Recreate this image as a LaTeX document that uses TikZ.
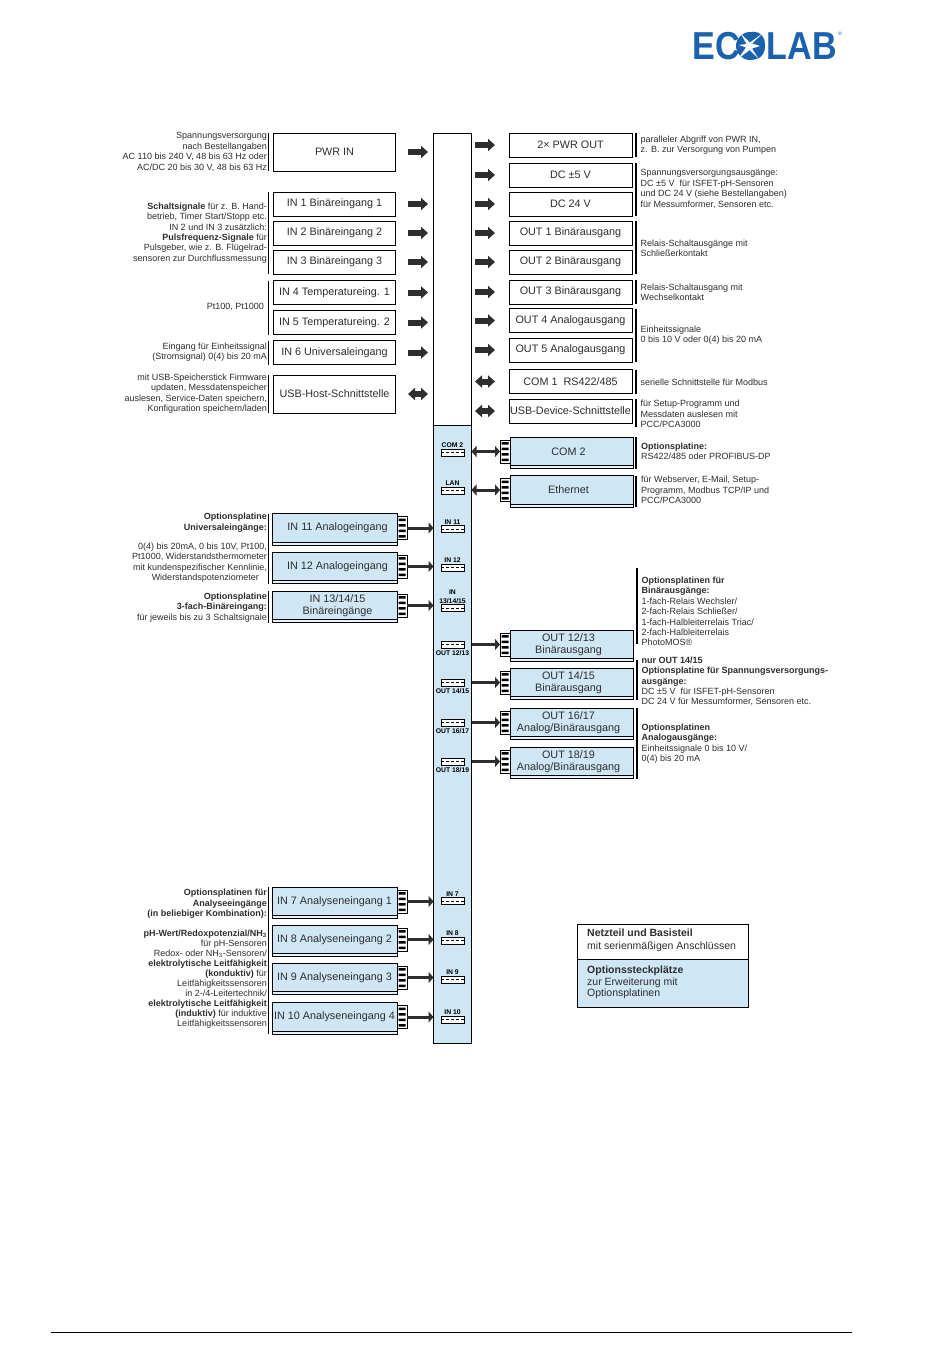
\documentclass[tikz,border=0pt]{standalone}
\usepackage{fontspec}
\setmainfont{Liberation Sans}
\usetikzlibrary{arrows.meta, positioning, calc, shadows}
\definecolor{optblue}{HTML}{CFE6F5}
\definecolor{logoblue}{HTML}{1B62AE}
\definecolor{inkgrey}{HTML}{2E2E2E}

\begin{document}
\begin{tikzpicture}[
  x=1pt, y=-1pt,
  box/.style={rectangle, draw, line width=1pt, fill=white, outer sep=0pt, inner sep=0pt,
              minimum height=24pt, align=center, text=inkgrey,
              font=\fontsize{10.8}{11.6}\selectfont},
  inbox/.style={box, minimum width=122pt},
  outbox/.style={box, minimum width=123pt},
  optin/.style={box, fill=optblue, minimum width=125pt, minimum height=28.5pt,
                general shadow={shadow yshift=-3pt, shadow xshift=0pt, fill=optblue!50, draw=black}},
  optout/.style={optin, minimum width=123pt},
  pins/.style={rectangle, draw, fill=white, outer sep=0pt, inner sep=0pt,
               minimum width=10pt, minimum height=23pt,
               path picture={\fill[black]
                 ([shift={(-3.5,-9.5)}]path picture bounding box.center) rectangle +(7,2.5)
                 ([shift={(-3.5,-4)}]path picture bounding box.center) rectangle +(7,2.5)
                 ([shift={(-3.5,1.5)}]path picture bounding box.center) rectangle +(7,2.5)
                 ([shift={(-3.5,7)}]path picture bounding box.center) rectangle +(7,2.5);}},
  slot/.style={rectangle, draw, line width=.9pt, fill=white, outer sep=0pt, inner sep=0pt,
               minimum width=23pt, minimum height=7pt,
               path picture={\draw[densely dashed, line width=.5pt]
                 (path picture bounding box.west) -- (path picture bounding box.east);}},
  slotlab/.style={inner sep=0pt, align=center, text=black, yshift=1pt,
                  font=\fontsize{6.8}{8.5}\bfseries\selectfont},
  slotlabb/.style={slotlab, yshift=-3pt},
  bigarrow/.style={-{Triangle[length=7pt, width=12pt]}, line width=6pt, color=inkgrey},
  bigboth/.style={{Triangle[length=7pt, width=12pt]}-{Triangle[length=7pt, width=12pt]},
                  line width=6pt, color=inkgrey},
  optarrow/.style={-{Triangle[length=5pt, width=11pt]}, line width=3pt, color=inkgrey},
  optboth/.style={{Triangle[length=5pt, width=11pt]}-{Triangle[length=5pt, width=11pt]},
                  line width=3pt, color=inkgrey},
  bracket/.style={line width=1.4pt},
  notel/.style={anchor=east, align=right, inner sep=0pt, text=inkgrey,
                font=\fontsize{9}{10.4}\selectfont},
  noter/.style={anchor=west, align=left, inner sep=0pt, text=inkgrey,
                font=\fontsize{9}{10.4}\selectfont},
]
\useasboundingbox (0,0) rectangle (950,1360);
\fill[white] (0,0) rectangle (950,1360);

% ---- logo ----
\node[inner sep=0pt, text=logoblue, xscale=.875, font=\fontsize{39}{39}\bfseries\selectfont]
  (logo) at (765,46) {ECOLAB};
\fill[logoblue] (750,46) circle (14);
\fill[white] (763,33) -- (752,43.5) -- (760,46) -- (752,48.5) -- (758,58) -- (749.5,50)
  -- (738,59) -- (746,47.5) -- (739,45) -- (746.5,44) -- (741,34) -- (750,42.5) -- cycle;
\node[inner sep=0pt, text=logoblue, font=\fontsize{5}{5}\selectfont] (logoreg) at (840,34) {®};

% ---- main board ----
\node[rectangle, draw, line width=1pt, outer sep=0pt, minimum width=38pt, minimum height=292pt, fill=white]
  (board) at (452.5,279) {};
\node[rectangle, draw, line width=1pt, outer sep=0pt, minimum width=38pt, minimum height=618pt, fill=optblue,
  below=0pt of board] (optboard) {};

% ---- base inputs ----
\node[inbox, minimum height=38pt] (pwrin) at (334.5,152) {PWR IN};
\node[inbox, below=21pt of pwrin] (in1) {IN 1 Binäreingang 1};
\node[inbox, below=5pt of in1] (in2) {IN 2 Binäreingang 2};
\node[inbox, below=5pt of in2] (in3) {IN 3 Binäreingang 3};
\node[inbox, below=6.5pt of in3] (in4) {IN 4 Temperatureing. 1};
\node[inbox, below=6pt of in4] (in5) {IN 5 Temperatureing. 2};
\node[inbox, below=6pt of in5] (in6) {IN 6 Universaleingang};
\node[inbox, minimum height=38pt, below=10.5pt of in6] (usbhost) {USB-Host-Schnittstelle};

% ---- base outputs ----
\node[outbox] (pwrout) at (570.5,145) {2× PWR OUT};
\node[outbox, below=6pt of pwrout] (dcfive) {DC ±5 V};
\node[outbox, below=5pt of dcfive] (dctwenty) {DC 24 V};
\node[outbox, below=5pt of dctwenty] (out1) {OUT 1 Binärausgang};
\node[outbox, below=5pt of out1] (out2) {OUT 2 Binärausgang};
\node[outbox, below=6pt of out2] (out3) {OUT 3 Binärausgang};
\node[outbox, below=4.5pt of out3] (out4) {OUT 4 Analogausgang};
\node[outbox, below=5.5pt of out4] (out5) {OUT 5 Analogausgang};
\node[outbox, below=7.5pt of out5] (com1) {COM 1\ \ RS422/485};
\node[outbox, below=5.5pt of com1] (usbdev) {USB-Device-Schnittstelle};

% ---- base arrows ----
\draw[bigarrow, shorten <=12.5pt, shorten >=5.5pt] (pwrin.east) -- (pwrin.east -| board.west);
\draw[bigarrow, shorten <=12.5pt, shorten >=5.5pt] (in1.east) -- (in1.east -| board.west);
\draw[bigarrow, shorten <=12.5pt, shorten >=5.5pt] (in2.east) -- (in2.east -| board.west);
\draw[bigarrow, shorten <=12.5pt, shorten >=5.5pt] (in3.east) -- (in3.east -| board.west);
\draw[bigarrow, shorten <=12.5pt, shorten >=5.5pt] (in4.east) -- (in4.east -| board.west);
\draw[bigarrow, shorten <=12.5pt, shorten >=5.5pt] (in5.east) -- (in5.east -| board.west);
\draw[bigarrow, shorten <=12.5pt, shorten >=5.5pt] (in6.east) -- (in6.east -| board.west);
\draw[bigboth, shorten <=12.5pt, shorten >=5.5pt] (usbhost.east) -- (usbhost.east -| board.west);
\draw[bigarrow, shorten <=3.5pt, shorten >=14pt] (pwrout.west -| board.east) -- (pwrout.west);
\draw[bigarrow, shorten <=3.5pt, shorten >=14pt] (dcfive.west -| board.east) -- (dcfive.west);
\draw[bigarrow, shorten <=3.5pt, shorten >=14pt] (dctwenty.west -| board.east) -- (dctwenty.west);
\draw[bigarrow, shorten <=3.5pt, shorten >=14pt] (out1.west -| board.east) -- (out1.west);
\draw[bigarrow, shorten <=3.5pt, shorten >=14pt] (out2.west -| board.east) -- (out2.west);
\draw[bigarrow, shorten <=3.5pt, shorten >=14pt] (out3.west -| board.east) -- (out3.west);
\draw[bigarrow, shorten <=3.5pt, shorten >=14pt] (out4.west -| board.east) -- (out4.west);
\draw[bigarrow, shorten <=3.5pt, shorten >=14pt] (out5.west -| board.east) -- (out5.west);
\draw[bigboth, shorten <=3.5pt, shorten >=14pt] (com1.west -| board.east) -- (com1.west);
\draw[bigboth, shorten <=3.5pt, shorten >=14pt] (usbdev.west -| board.east) -- (usbdev.west);

% ---- option slots ----
\node[slot, label={[slotlab]above:COM 2}] (slotcom) at (452.5,452.5) {};
\node[slot, label={[slotlab]above:LAN}] (slotlan) at (452.5,490.5) {};
\node[slot, label={[slotlab]above:IN 11}] (slot11) at (452.5,529) {};
\node[slot, label={[slotlab]above:IN 12}] (slot12) at (452.5,567.5) {};
\node[slot, label={[slotlab]above:IN\\13/14/15}] (slot13) at (452.5,608) {};
\node[slot, label={[slotlabb]below:OUT 12/13}] (slotout12) at (452.5,644.5) {};
\node[slot, label={[slotlabb]below:OUT 14/15}] (slotout14) at (452.5,682.5) {};
\node[slot, label={[slotlabb]below:OUT 16/17}] (slotout16) at (452.5,722.5) {};
\node[slot, label={[slotlabb]below:OUT 18/19}] (slotout18) at (452.5,761.5) {};
\node[slot, label={[slotlab]above:IN 7}] (slot7) at (452.5,901) {};
\node[slot, label={[slotlab]above:IN 8}] (slot8) at (452.5,940.5) {};
\node[slot, label={[slotlab]above:IN 9}] (slot9) at (452.5,979.5) {};
\node[slot, label={[slotlab]above:IN 10}] (slot10) at (452.5,1019.5) {};

% ---- option boards, inputs ----
\node[optin] (in11) at (334.5,528) {\hspace*{6pt}IN 11 Analogeingang};
\node[optin, below=10pt of in11] (in12) {\hspace*{6pt}IN 12 Analogeingang};
\node[optin, below=10.5pt of in12] (in13) {\hspace*{6pt}IN 13/14/15\\\hspace*{6pt}Binäreingänge};
\node[optin] (in7) at (334.5,901.5) {IN 7 Analyseneingang 1};
\node[optin, below=9.5pt of in7] (in8) {IN 8 Analyseneingang 2};
\node[optin, below=9.5pt of in8] (in9) {IN 9 Analyseneingang 3};
\node[optin, below=11pt of in9] (in10) {IN 10 Analyseneingang 4};
\node[pins, right=0pt of in11] (pin11) {};
\node[pins, right=0pt of in12] (pin12) {};
\node[pins, right=0pt of in13] (pin13) {};
\node[pins, right=0pt of in7] (pin7) {};
\node[pins, right=0pt of in8] (pin8) {};
\node[pins, right=0pt of in9] (pin9) {};
\node[pins, right=0pt of in10] (pin10) {};

% ---- option boards, outputs ----
\node[optout] (com2) at (571.5,451.5) {COM 2\hspace*{6pt}};
\node[optout, below=10pt of com2] (ether) {Ethernet\hspace*{6pt}};
\node[optout] (out12) at (571.5,644.5) {OUT 12/13\hspace*{6pt}\\Binärausgang\hspace*{6pt}};
\node[optout, below=9.5pt of out12] (out14) {OUT 14/15\hspace*{6pt}\\Binärausgang\hspace*{6pt}};
\node[optout, below=11.5pt of out14] (out16) {OUT 16/17\hspace*{6pt}\\Analog/Binärausgang\hspace*{6pt}};
\node[optout, below=10.5pt of out16] (out18) {OUT 18/19\hspace*{6pt}\\Analog/Binärausgang\hspace*{6pt}};
\node[pins, left=0pt of com2] (pincom) {};
\node[pins, left=0pt of ether] (pinlan) {};
\node[pins, left=0pt of out12] (pinout12) {};
\node[pins, left=0pt of out14] (pinout14) {};
\node[pins, left=0pt of out16] (pinout16) {};
\node[pins, left=0pt of out18] (pinout18) {};

% ---- option arrows ----
\draw[optarrow] (pin11.east) -- (pin11.east -| optboard.west);
\draw[optarrow] (pin12.east) -- (pin12.east -| optboard.west);
\draw[optarrow] (pin13.east) -- (pin13.east -| optboard.west);
\draw[optarrow] (pin7.east) -- (pin7.east -| optboard.west);
\draw[optarrow] (pin8.east) -- (pin8.east -| optboard.west);
\draw[optarrow] (pin9.east) -- (pin9.east -| optboard.west);
\draw[optarrow] (pin10.east) -- (pin10.east -| optboard.west);
\draw[optboth] (pincom.west -| optboard.east) -- (pincom.west);
\draw[optboth] (pinlan.west -| optboard.east) -- (pinlan.west);
\draw[optarrow] (pinout12.west -| optboard.east) -- (pinout12.west);
\draw[optarrow] (pinout14.west -| optboard.east) -- (pinout14.west);
\draw[optarrow] (pinout16.west -| optboard.east) -- (pinout16.west);
\draw[optarrow] (pinout18.west -| optboard.east) -- (pinout18.west);

% ---- brackets ----
\draw[bracket] ([xshift=-5pt]pwrin.north west) -- ([xshift=-5pt]pwrin.south west);
\draw[bracket] ([xshift=-5pt]in1.north west) -- ([xshift=-5pt]in3.south west);
\draw[bracket] ([xshift=-5pt]in4.north west) -- ([xshift=-5pt]in5.south west);
\draw[bracket] ([xshift=-5pt]in6.north west) -- ([xshift=-5pt]in6.south west);
\draw[bracket] ([xshift=-5pt]usbhost.north west) -- ([xshift=-5pt]usbhost.south west);
\draw[bracket] ([xshift=-3.5pt]in11.north west) -- ([xshift=-3.5pt,yshift=-3pt]in12.south west);
\draw[bracket] ([xshift=-3.5pt]in13.north west) -- ([xshift=-3.5pt,yshift=-3pt]in13.south west);
\draw[bracket] ([xshift=-3.5pt]in7.north west) -- ([xshift=-3.5pt,yshift=-3pt]in10.south west);
\draw[bracket] ([xshift=4pt]pwrout.north east) -- ([xshift=4pt]pwrout.south east);
\draw[bracket] ([xshift=4pt]dcfive.north east) -- ([xshift=4pt]dctwenty.south east);
\draw[bracket] ([xshift=4pt]out1.north east) -- ([xshift=4pt]out2.south east);
\draw[bracket] ([xshift=4pt]out3.north east) -- ([xshift=4pt]out3.south east);
\draw[bracket] ([xshift=4pt]out4.north east) -- ([xshift=4pt]out5.south east);
\draw[bracket] ([xshift=4pt]com1.north east) -- ([xshift=4pt]com1.south east);
\draw[bracket] ([xshift=4pt]usbdev.north east) -- ([xshift=4pt,yshift=-4pt]usbdev.south east);
\draw[bracket] ([xshift=3pt]com2.north east) -- ([xshift=3pt,yshift=-3pt]com2.south east);
\draw[bracket] ([xshift=3pt]ether.north east) -- ([xshift=3pt,yshift=-3pt]ether.south east);
\draw[bracket] ([xshift=4pt,yshift=62pt]out12.north east) -- ([xshift=4pt,yshift=-14pt]out12.north east);
\draw[bracket] ([xshift=4pt,yshift=-1pt]out12.south east) -- ([xshift=4pt,yshift=-3pt]out14.south east);
\draw[bracket] ([xshift=4pt]out16.north east) -- ([xshift=4pt,yshift=-3pt]out18.south east);

% ---- notes, left ----
\node[notel] (notepwr) at (267,152) {Spannungsversorgung\\nach Bestellangaben\\AC 110 bis 240 V, 48 bis 63 Hz oder\\AC/DC 20 bis 30 V, 48 bis 63 Hz};
\node[notel] (notebin) at (267,233) {\textbf{Schaltsignale} für z. B. Hand-\\betrieb, Timer Start/Stopp etc.\\IN 2 und IN 3 zusätzlich:\\\textbf{Pulsfrequenz-Signale} für\\Pulsgeber, wie z. B. Flügelrad-\\sensoren zur Durchflussmessung};
\node[notel] (notept) at (264,307) {Pt100, Pt1000};
\node[notel] (noteuni) at (267,352) {Eingang für Einheitssignal\\(Stromsignal) 0(4) bis 20 mA};
\node[notel] (noteusb) at (267,393.5) {mit USB-Speicherstick Firmware\\updaten, Messdatenspeicher\\auslesen, Service-Daten speichern,\\Konfiguration speichern/laden};
\node[notel] (noteana) at (267,522.5) {\textbf{Optionsplatine}\\\textbf{Universaleingänge:}};
\node[notel] (noteres) at (267,562.5) {0(4) bis 20mA, 0 bis 10V, Pt100,\\Pt1000, Widerstandsthermometer\\mit kundenspezifischer Kennlinie,\\Widerstandspotenziometer\hspace*{8pt}};
\node[notel] (notebe) at (267,607.5) {\textbf{Optionsplatine}\\\textbf{3-fach-Binäreingang:}\\für jeweils bis zu 3 Schaltsignale};
\node[notel] (noteopt) at (267,904) {\textbf{Optionsplatinen für}\\\textbf{Analyseeingänge}\\\textbf{(in beliebiger Kombination):}};
\node[notel, font=\fontsize{9}{10}\selectfont] (notesens) at (267,979.5) {\textbf{pH-Wert/Redoxpotenzial/NH\textsubscript{3}}\\für pH-Sensoren\\Redox- oder NH\textsubscript{3}-Sensoren/\\\textbf{elektrolytische Leitfähigkeit}\\\textbf{(konduktiv)} für\\Leitfähigkeitssensoren\\in 2-/4-Leitertechnik/\\\textbf{elektrolytische Leitfähigkeit}\\\textbf{(induktiv)} für induktive\\Leitfähigkeitssensoren};

% ---- notes, right ----
\node[noter] (notepar) at (640.5,145) {paralleler Abgriff von PWR IN,\\z. B. zur Versorgung von Pumpen};
\node[noter] (notedc) at (640.5,189) {Spannungsversorgungsausgänge:\\DC ±5 V\ \ für ISFET-pH-Sensoren\\und DC 24 V (siehe Bestellangaben)\\für Messumformer, Sensoren etc.};
\node[noter] (noterel) at (640.5,248) {Relais-Schaltausgänge mit\\Schließerkontakt};
\node[noter] (notewe) at (640.5,292) {Relais-Schaltausgang mit\\Wechselkontakt};
\node[noter] (noteein) at (640.5,335) {Einheitssignale\\0 bis 10 V oder 0(4) bis 20 mA};
\node[noter] (notemod) at (640.5,382) {serielle Schnittstelle für Modbus};
\node[noter] (notesetup) at (640.5,414) {für Setup-Programm und\\Messdaten auslesen mit\\PCC/PCA3000};
\node[noter] (notecom) at (641,451.5) {\textbf{Optionsplatine:}\\RS422/485 oder PROFIBUS-DP};
\node[noter] (noteweb) at (641,490) {für Webserver, E-Mail, Setup-\\Programm, Modbus TCP/IP und\\PCC/PCA3000};
\node[noter] (notebinout) at (641.5,611.5) {\textbf{Optionsplatinen für}\\\textbf{Binärausgänge:}\\1-fach-Relais Wechsler/\\2-fach-Relais Schließer/\\1-fach-Halbleiterrelais Triac/\\2-fach-Halbleiterrelais\\PhotoMOS®};
\node[noter] (notenur) at (641.5,681.5) {\textbf{nur OUT 14/15}\\\textbf{Optionsplatine für Spannungsversorgungs-}\\\textbf{ausgänge:}\\DC ±5 V\ \ für ISFET-pH-Sensoren\\DC 24 V für Messumformer, Sensoren etc.};
\node[noter] (noteanaout) at (641.5,743.5) {\textbf{Optionsplatinen}\\\textbf{Analogausgänge:}\\Einheitssignale 0 bis 10 V/\\0(4) bis 20 mA};

% ---- legend ----
\node[rectangle, draw, line width=1pt, outer sep=0pt, minimum width=171pt, minimum height=35pt, fill=white] (legbase) at (662.5,941.5) {};
\node[rectangle, draw, line width=1pt, outer sep=0pt, minimum width=171pt, minimum height=48pt, fill=optblue, below=0pt of legbase] (legopt) {};
\node[noter, font=\fontsize{10.5}{12.5}\selectfont] (legbasetxt) at (587,940.5) {\textbf{Netzteil und Basisteil}\\mit serienmäßigen Anschlüssen};
\node[noter, font=\fontsize{10.5}{11.5}\selectfont] (legopttxt) at (587,982.5) {\textbf{Optionssteckplätze}\\zur Erweiterung mit\\Optionsplatinen};

% ---- page rule ----
\coordinate (ruleleft) at (51,1332);
\coordinate (ruleright) at (852,1332);
\draw[line width=.8pt] (ruleleft) -- (ruleright);

\end{tikzpicture}
\end{document}
